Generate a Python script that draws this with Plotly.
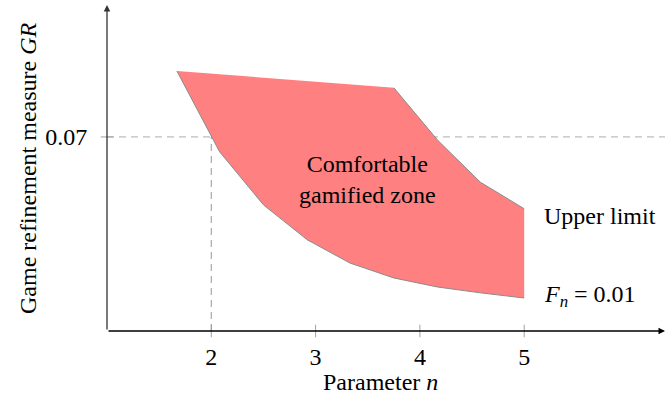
import plotly.graph_objects as go

# Data
lower_n = [1.67, 2.08, 2.50, 2.92, 3.33, 3.75, 4.17, 4.58, 5.00]
lower_gr = [0.0802, 0.0677, 0.0595, 0.0541, 0.0505, 0.0482, 0.0468, 0.0459, 0.0451]
upper_n = [1.67, 3.75, 4.17, 4.58, 5.00]
upper_gr = [0.0802, 0.0776, 0.0695, 0.0630, 0.0589]
x_ticks = [2, 3, 4, 5]
y_ticks = [0.07]
y_tick_labels = ["0.07"]
ref_n = 2
ref_gr = 0.07

X0, X1 = 1.0, 6.35
Y0, Y1 = 0.04, 0.0904
FONT = "Liberation Serif"
FS = 24

W, H = 672, 403
L, R, T, B = 107, 7, 5, 72
pw, ph = W - L - R, H - T - B


def px_to_paper(px, py):
    return (px - L) / pw, (H - B - py) / ph


fig = go.Figure()

# dashed reference lines
fig.add_trace(go.Scatter(x=[X0, X1], y=[ref_gr, ref_gr], mode="lines",
                         line=dict(color="#bdbdbd", width=1.2, dash="7px,5px"),
                         hoverinfo="skip", showlegend=False))
fig.add_trace(go.Scatter(x=[ref_n, ref_n], y=[Y0, ref_gr], mode="lines",
                         line=dict(color="#a8a8a8", width=1.2, dash="7px,5px"),
                         hoverinfo="skip", showlegend=False))

# filled zone
poly_x = upper_n + lower_n[::-1]
poly_y = upper_gr + lower_gr[::-1]
fig.add_trace(go.Scatter(x=poly_x, y=poly_y, mode="lines", fill="toself",
                         fillcolor="#ff8080", line=dict(width=0, color="rgba(0,0,0,0)"),
                         hoverinfo="skip", showlegend=False))
# boundary lines
fig.add_trace(go.Scatter(x=lower_n, y=lower_gr, mode="lines",
                         line=dict(color="#8a8a8a", width=1),
                         hoverinfo="skip", showlegend=False))
fig.add_trace(go.Scatter(x=upper_n[1:], y=upper_gr[1:], mode="lines",
                         line=dict(color="#8a8a8a", width=1),
                         hoverinfo="skip", showlegend=False))

# tick marks crossing the axes
fig.add_trace(go.Scatter(x=x_ticks, y=[Y0] * len(x_ticks), mode="markers",
                         marker=dict(symbol="line-ns", size=9,
                                     line=dict(color="#a0a0a0", width=1)),
                         cliponaxis=False, hoverinfo="skip", showlegend=False))
fig.add_trace(go.Scatter(x=[X0] * len(y_ticks), y=y_ticks, mode="markers",
                         marker=dict(symbol="line-ew", size=9,
                                     line=dict(color="#a0a0a0", width=1)),
                         cliponaxis=False, hoverinfo="skip", showlegend=False))

# axis arrows
fig.add_annotation(x=X1, y=Y0, ax=X0, ay=Y0, xref="x", yref="y", axref="x", ayref="y",
                   showarrow=True, arrowhead=2, arrowsize=1, arrowwidth=1.3,
                   arrowcolor="#000000", text="")
fig.add_annotation(x=X0, y=Y1, ax=X0, ay=Y0, xref="x", yref="y", axref="x", ayref="y",
                   showarrow=True, arrowhead=2, arrowsize=1, arrowwidth=1.3,
                   arrowcolor="#333333", text="")

# texts
fig.add_annotation(x=3.5, y=0.0635, xref="x", yref="y", showarrow=False,
                   text="Comfortable<br>gamified zone", align="center",
                   font=dict(family=FONT, size=FS, color="black"))
fig.add_annotation(x=5.17, y=0.0578, xref="x", yref="y", showarrow=False,
                   xanchor="left", text="Upper limit",
                   font=dict(family=FONT, size=FS, color="black"))
fig.add_annotation(x=5.17, y=0.0454, xref="x", yref="y", showarrow=False,
                   xanchor="left", text="<i>F</i><sub><i>n</i></sub> = 0.01",
                   font=dict(family=FONT, size=FS, color="black"))
ax_x, ax_y = px_to_paper(380, 382)
fig.add_annotation(x=ax_x, y=ax_y, xref="paper", yref="paper", showarrow=False,
                   xanchor="center", yanchor="middle",
                   text="Parameter <i>n</i>",
                   font=dict(family=FONT, size=FS, color="black"))
ay_x, ay_y = px_to_paper(28, 168)
fig.add_annotation(x=ay_x, y=ay_y, xref="paper", yref="paper", showarrow=False,
                   xanchor="center", yanchor="middle",
                   textangle=-90, text="Game refinement measure <i>GR</i>",
                   font=dict(family=FONT, size=FS, color="black"))

fig.update_layout(
    width=W, height=H,
    margin=dict(l=L, r=R, t=T, b=B, autoexpand=False),
    paper_bgcolor="white", plot_bgcolor="white",
    font=dict(family=FONT, size=FS, color="black"),
    xaxis=dict(range=[X0, X1], showgrid=False, zeroline=False, showline=False,
               automargin=False,
               tickvals=x_ticks, ticktext=[str(v) for v in x_ticks],
               ticks="outside", ticklen=4, tickcolor="rgba(0,0,0,0)"),
    yaxis=dict(range=[Y0, Y1], showgrid=False, zeroline=False, showline=False,
               automargin=False,
               tickvals=y_ticks, ticktext=y_tick_labels,
               ticks="outside", ticklen=14, tickcolor="rgba(0,0,0,0)"),
)

fig.write_html("out.html", config={"displayModeBar": False},
               post_script="document.body.style.margin='0';document.body.style.overflow='hidden';")
